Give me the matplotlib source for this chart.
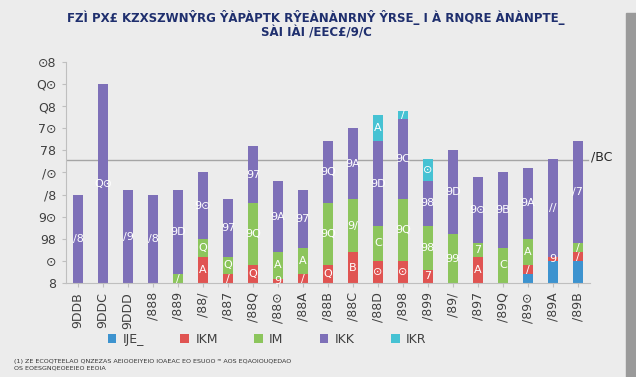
import numpy as np
import matplotlib
matplotlib.use("Agg")
import matplotlib.pyplot as plt
from matplotlib.patches import Rectangle

# DATOS
anios = list(range(1997, 2018))
azul = [0, 0, 0, 0, 0, 0, 0, 0, 0, 0, 0, 0, 0, 0, 0, 0, 0, 0, 2, 5, 5]
rojo = [0, 0, 0, 0, 0, 6, 2, 4, 1, 2, 4, 7, 5, 5, 3, 0, 6, 0, 2, 1, 2]
verde = [0, 0, 0, 0, 2, 4, 4, 14, 6, 6, 14, 12, 8, 14, 10, 11, 3, 8, 6, 0, 2]
morado = [20, 45, 21, 20, 19, 15, 13, 13, 16, 13, 14, 16, 19, 18, 10, 19, 15, 17, 16, 22, 23]
cian = [0, 0, 0, 0, 0, 0, 0, 0, 0, 0, 0, 0, 6, 2, 5, 0, 0, 0, 0, 0, 0]
umbral = 27.8
umbral_txt = "/BC"

series = [azul, rojo, verde, morado, cian]
nombres = ["IJE_", "IKM", "IM", "IKK", "IKR"]
colores = ["#3d93cf", "#e05452", "#8cc55c", "#7e70b8", "#46c2d3"]
con_etiqueta = [False, True, True, True, True]

# los textos del original se ven con este juego de glifos
glifos = str.maketrans("0123456789", "89/7Q\u2299ABCD")

def cifra(v):
    return str(v).translate(glifos)

titulo = ("FZÌ PX£ KZXSZWNŶRG ŶÀPÀPTK RŶEÀNÀNRNŶ ŶRSE_ I À RNQRE ÀNÀNPTE_\n"
          "SÀI IÀI /EEC£/9/C")
nota = ("(1) ZE ECOQTEELAO QNZEZAS AEIOOEIYEIO IOAEAC EO ESUOO ᵐ AOS EQAOIOUQEDAO\n"
        "OS EOESGNQEOEEIEO EEOIA")

fondo = "#ececec"
fig = plt.figure(figsize=(6.36, 3.77), dpi=100, facecolor=fondo)
ax = fig.add_axes([0.103, 0.249, 0.825, 0.587], facecolor=fondo)

# franja gris a la derecha
fig.patches.append(Rectangle((0.984, 0), 0.016, 0.965, transform=fig.transFigure,
                             color="#9a9a9a", zorder=0))

x = np.arange(len(anios))
base = np.zeros(len(anios))
for serie, nombre, color, etq in zip(series, nombres, colores, con_etiqueta):
    vals = np.array(serie, dtype=float)
    ax.bar(x, vals, width=0.4, bottom=base, color=color, label=nombre, zorder=2)
    if etq:
        for xi, b, v in zip(x, base, vals):
            if v > 0:
                ax.text(xi, b + v / 2, cifra(int(v)), ha="center", va="center",
                        color="white", fontsize=8, zorder=3)
    base = base + vals

# LÍNEA DE REFERENCIA
ax.axhline(umbral, color="#a5a5a5", lw=1, zorder=1, xmax=0.995)
ax.text(20.55, umbral + 0.6, umbral_txt, ha="left", va="center", fontsize=9,
        color="#262626")

ax.set_xlim(-0.5, 20.5)
ax.set_ylim(0, 50)
ax.set_yticks(range(0, 51, 5))
ax.set_yticklabels([cifra(v) for v in range(0, 51, 5)], fontsize=9, color="#404040")
ax.set_xticks(x)
ax.set_xticklabels([cifra(a) for a in anios], rotation=90, fontsize=9, color="#404040")
ax.tick_params(axis="both", length=3, color="#bfbfbf")
for lado in ["top", "right"]:
    ax.spines[lado].set_visible(False)
ax.spines["left"].set_color("#bfbfbf")
ax.spines["bottom"].set_color("#bfbfbf")

fig.text(0.497, 0.935, titulo, ha="center", va="center", fontsize=8.5,
         fontweight="bold", color="#1f2f6e", linespacing=1.2)

ax.legend(loc="center", bbox_to_anchor=(0.384, -0.255), ncol=5, frameon=False,
          fontsize=9, handlelength=0.7, handleheight=0.7, columnspacing=2.9,
          handletextpad=0.5, labelcolor="#404040")

fig.text(0.022, 0.047, nota, ha="left", va="top", fontsize=4.6, color="#333333",
         linespacing=1.4)

fig.savefig("out.png", dpi=100, facecolor=fondo)
